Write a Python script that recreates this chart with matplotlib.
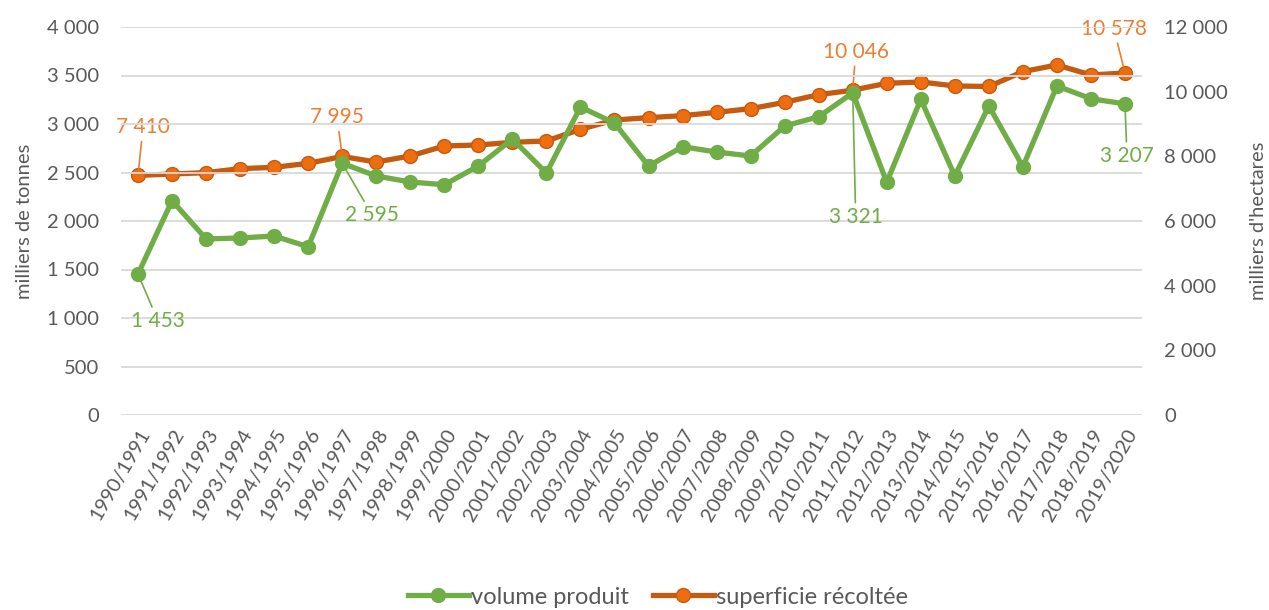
import matplotlib
matplotlib.use("Agg")
import matplotlib.pyplot as plt
from matplotlib.ticker import FuncFormatter, MultipleLocator

plt.rcParams['font.family'] = ['Lato', 'DejaVu Sans']

campagnes = [f"{y}/{y+1}" for y in range(1990, 2020)]
volume = [1453, 2210, 1815, 1825, 1845, 1735, 2595, 2464, 2402, 2374, 2567, 2845,
          2495, 3175, 3010, 2567, 2766, 2711, 2670, 2979, 3075, 3321,
          2399, 3254, 2464, 3186, 2560, 3392, 3261, 3207]
superficie = [7410, 7454, 7495, 7619, 7660, 7784, 7995, 7825, 8011, 8320, 8351, 8434,
              8475, 8836, 9124, 9196, 9258, 9361, 9474, 9670, 9907, 10046,
              10259, 10300, 10176, 10160, 10619, 10826, 10516, 10578]

green = "#70ad47"
orange_line = "#c55a11"
orange_face = "#ed6d0f"
orange_txt = "#ed7d31"
gray = "#595959"
grid_c = "#d9d9d9"

fig = plt.figure(figsize=(12.69, 6.10), dpi=100)
ax = fig.add_axes([121/1269, 1-415/610, (1142-121)/1269, (415-27)/610])
ax2 = ax.twinx()

x = list(range(len(campagnes)))
ax.plot(x, volume, color=green, lw=3.8, marker='o', ms=10, mfc=green, mec=green,
        zorder=3, label="volume produit")
ax2.plot(x, superficie, color=orange_line, lw=3.8, marker='o', ms=10, mfc=orange_face,
         mec=orange_line, mew=1, zorder=3, label="superficie récoltée")

ax.set_zorder(2)
ax.patch.set_visible(False)
ax2.set_zorder(1)

fmt = FuncFormatter(lambda v, p: f"{int(v):,}".replace(",", " "))
ax.set_ylim(0, 4000)
ax.yaxis.set_major_locator(MultipleLocator(500))
ax.yaxis.set_major_formatter(fmt)
ax2.set_ylim(0, 12000)
ax2.yaxis.set_major_locator(MultipleLocator(2000))
ax2.yaxis.set_major_formatter(fmt)
ax.set_xlim(-0.5, len(campagnes) - 0.5)
ax.set_xticks(x)
ax.set_xticklabels(campagnes, rotation=60, ha='right', rotation_mode='anchor',
                   fontsize=14.5)

ax2.grid(False)
for v in range(0, 4001, 500):
    ax.axhline(v, color=grid_c, lw=1.3, zorder=0)

for a in (ax, ax2):
    for s in a.spines.values():
        s.set_visible(False)
    a.tick_params(axis='y', length=0, labelsize=14.5, colors=gray, pad=16)
ax.tick_params(axis='x', length=0, colors=gray, pad=8)

ax.set_ylabel("milliers de tonnes", fontsize=14.5, color=gray, labelpad=10)
ax2.set_ylabel("milliers d'hectares", fontsize=14.5, color=gray, labelpad=16)

def lab(axis, i, vals, text, dx, dy, color):
    axis.annotate(text, xy=(i, vals[i]), xytext=(dx, dy), textcoords='offset pixels',
                  ha='center', va='center', fontsize=15, color=color,
                  arrowprops=dict(arrowstyle='-', color=color, lw=1.2,
                                  shrinkA=1, shrinkB=5), zorder=5)

lab(ax2, 0, superficie, "7 410", 5, 48, orange_txt)
lab(ax2, 6, superficie, "7 995", -5, 39, orange_txt)
lab(ax2, 21, superficie, "10 046", 3, 38, orange_txt)
lab(ax2, 29, superficie, "10 578", -11, 44, orange_txt)
lab(ax, 0, volume, "1 453", 20, -47, green)
lab(ax, 6, volume, "2 595", 30, -52, green)
lab(ax, 21, volume, "3 321", 3, -124, green)
lab(ax, 29, volume, "3 207", 2, -52, green)

h1, l1 = ax.get_legend_handles_labels()
h2, l2 = ax2.get_legend_handles_labels()
fig.legend(h1 + h2, l1 + l2, loc='center', bbox_to_anchor=(658/1269, 1-597/610),
           ncol=2, frameon=False, labelcolor=gray, handlelength=2.6,
           handletextpad=0.1, columnspacing=1.0, prop={'size': 17})

fig.savefig("out.png", dpi=100)
